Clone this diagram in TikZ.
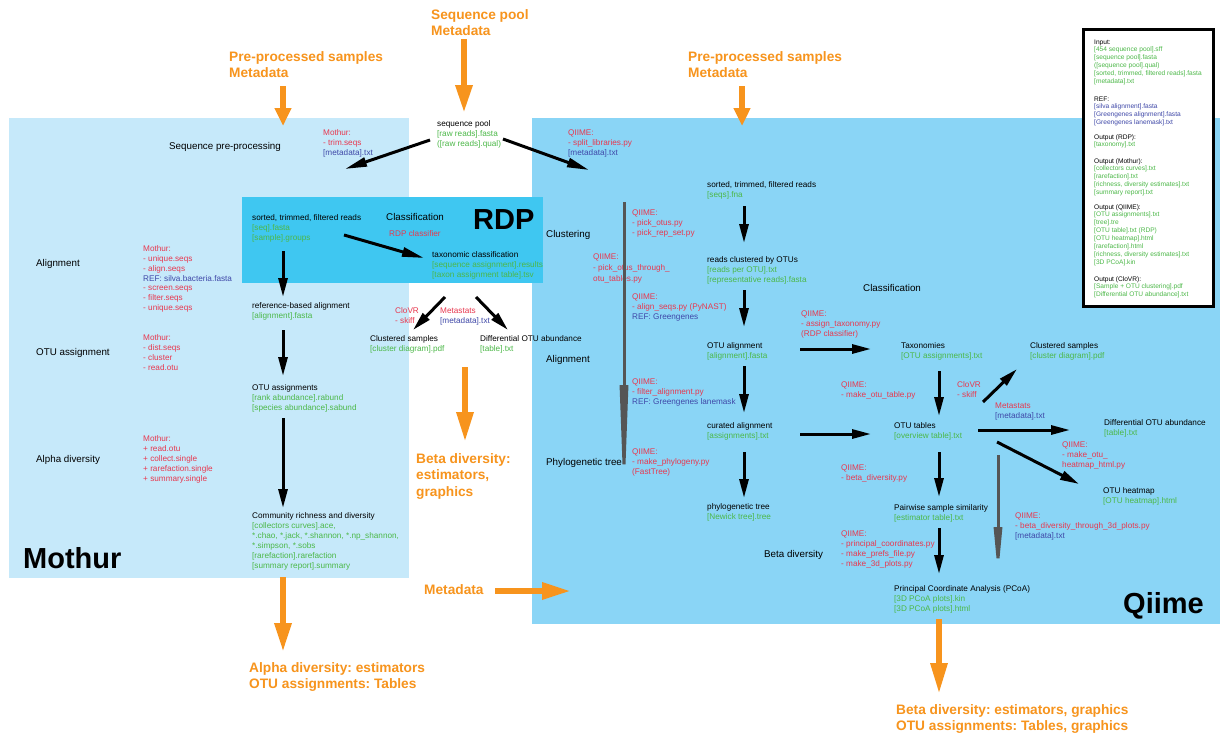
\documentclass[tikz,border=0pt]{standalone}
\usepackage{fontspec}
\setmainfont{Liberation Sans}
\usetikzlibrary{arrows.meta}
\frenchspacing
\definecolor{mothurbg}{HTML}{C6E9FA}
\definecolor{rdpbg}{HTML}{3FC7F1}
\definecolor{qiimebg}{HTML}{8AD5F6}
\definecolor{orng}{HTML}{F7941D}
\definecolor{grn}{HTML}{4CB848}
\definecolor{rd}{HTML}{E8384F}
\definecolor{bl}{HTML}{3F48A8}
\definecolor{gry}{HTML}{555555}
\newcommand{\gtxt}[1]{\textcolor{grn}{#1}}
\newcommand{\rtxt}[1]{\textcolor{rd}{#1}}
\newcommand{\btxt}[1]{\textcolor{bl}{#1}}
\tikzset{
  sm/.style={anchor=base west, inner sep=0, align=left, font=\fontsize{8.2}{10}\selectfont},
  lab/.style={anchor=base west, inner sep=0, font=\fontsize{9.8}{12}\selectfont},
  leg/.style={anchor=base west, inner sep=0, align=left, font=\fontsize{6.6}{7.95}\selectfont},
  otxt/.style={anchor=base west, inner sep=0, align=left, text=orng, font=\bfseries\fontsize{13.7}{16.5}\selectfont},
  bigt/.style={anchor=base west, inner sep=0, font=\bfseries\fontsize{29}{30}\selectfont},
  blk/.style={line width=3pt, -{Triangle[length=19pt,width=9pt]}},
  blkl/.style={line width=3pt, -{Triangle[length=22pt,width=9pt]}},
  oarr/.style={line width=6pt, draw=orng, -{Triangle[length=#1,width=16pt]}},
  garr/.style={line width=3pt, draw=gry, -{Triangle[length=#1,width=8pt]}}
}
\begin{document}
\begin{tikzpicture}[x=1pt,y=-1pt]
\useasboundingbox (0,0) rectangle (1220,736);
\fill[white] (0,0) rectangle (1220,736);
% regions
\fill[mothurbg] (9,118) rectangle (409,578);
\fill[qiimebg] (532,118) rectangle (1220,624);
\fill[rdpbg] (242,197) rectangle (543,283);
\draw[line width=3pt, fill=white] (1083,29) rectangle (1213,306);

% legend (positions are baselines of last lines)
\node[leg] (lin) at (1094,83.75) {Input:\\\gtxt{[454 sequence pool].sff}\\\gtxt{[sequence pool].fasta}\\\gtxt{([sequence pool].qual)}\\\gtxt{[sorted, trimmed, filtered reads].fasta}\\\gtxt{[metadata].txt}};
\node[leg] (lref) at (1094,124.85) {REF:\\\btxt{[silva alignment].fasta}\\\btxt{[Greengenes alignment].fasta}\\\btxt{[Greengenes lanemask].txt}};
\node[leg] (lrdp) at (1094,146.95) {Output (RDP):\\\gtxt{[taxonomy].txt}};
\node[leg] (lmot) at (1094,194.8) {Output (Mothur):\\\gtxt{[collectors curves].txt}\\\gtxt{[rarefaction].txt}\\\gtxt{[richness, diversity estimates].txt}\\\gtxt{[summary report].txt}};
\node[leg] (lqii) at (1094,264.65) {Output (QIIME):\\\gtxt{[OTU assignments].txt}\\\gtxt{[tree].tre}\\\gtxt{[OTU table].txt (RDP)}\\\gtxt{[OTU heatmap].html}\\\gtxt{[rarefaction].html}\\\gtxt{[richness, diversity estimates].txt}\\\gtxt{[3D PCoA].kin}};
\node[leg] (lclo) at (1094,296.9) {Output (CloVR):\\\gtxt{[Sample + OTU clustering].pdf}\\\gtxt{[Differential OTU abundance].txt}};

% orange inputs/outputs
\node[otxt] (pre1) at (229,77.5) {Pre-processed samples\\Metadata};
\node[otxt] (seqp) at (431,35.5) {Sequence pool\\Metadata};
\node[otxt] (pre2) at (688,77.5) {Pre-processed samples\\Metadata};
\node[otxt] (betaE) at (416,496) {Beta diversity:\\estimators,\\graphics};
\node[otxt] (alphaO) at (249,688.5) {Alpha diversity: estimators\\OTU assignments: Tables};
\node[otxt] (meta) at (424,594) {Metadata};
\node[otxt] (betaO) at (896,730.5) {Beta diversity: estimators, graphics\\OTU assignments: Tables, graphics};

% big titles
\node[bigt] (tmothur) at (23,568.4) {Mothur};
\node[bigt] (trdp) at (473,229.5) {RDP};
\node[bigt] (tqiime) at (1123,613.4) {Qiime};

% Mothur side
\node[lab] (seqpre) at (169,149) {Sequence pre-processing};
\node[lab] (lalign) at (36,266) {Alignment};
\node[lab] (lotu) at (36,355) {OTU assignment};
\node[lab] (lalpha) at (36,462) {Alpha diversity};
\node[sm] (m1) at (323,155.5) {\rtxt{Mothur:}\\\rtxt{- trim.seqs}\\\btxt{[metadata].txt}};
\node[sm, font=\fontsize{8.2}{9.85}\selectfont] (m2) at (143,310.6) {\rtxt{Mothur:}\\\rtxt{- unique.seqs}\\\rtxt{- align.seqs}\\\btxt{REF: silva.bacteria.fasta}\\\rtxt{- screen.seqs}\\\rtxt{- filter.seqs}\\\rtxt{- unique.seqs}};
\node[sm, font=\fontsize{8.2}{9.85}\selectfont] (m3) at (143,370) {\rtxt{Mothur:}\\\rtxt{- dist.seqs}\\\rtxt{- cluster}\\\rtxt{- read.otu}};
\node[sm, font=\fontsize{8.2}{9.85}\selectfont] (m4) at (143,481) {\rtxt{Mothur:}\\\rtxt{+ read.otu}\\\rtxt{+ collect.single}\\\rtxt{+ rarefaction.single}\\\rtxt{+ summary.single}};
\node[sm] (seqpool) at (437,146.5) {sequence pool\\\gtxt{[raw reads].fasta}\\\gtxt{([raw reads].qual)}};
\node[sm] (rdpin) at (252,240.5) {sorted, trimmed, filtered reads\\\gtxt{[seq].fasta}\\\gtxt{[sample].groups}};
\node[lab] (rdpclass) at (386,220) {Classification};
\node[sm] (rdpcl) at (389,236.5) {\rtxt{RDP classifier}};
\node[sm] (taxo) at (432,277.5) {taxonomic classification\\\gtxt{[sequence assignment].results}\\\gtxt{[taxon assignment table].tsv}};
\node[sm] (refal) at (252,318.5) {reference-based alignment\\\gtxt{[alignment].fasta}};
\node[sm] (clovr1) at (395,323.5) {\rtxt{CloVR}\\\rtxt{- skiff}};
\node[sm] (metast1) at (440,323.5) {\rtxt{Metastats}\\\btxt{[metadata].txt}};
\node[sm] (clus1) at (370,351.5) {Clustered samples\\\gtxt{[cluster diagram].pdf}};
\node[sm] (diff1) at (480,351.5) {Differential OTU abundance\\\gtxt{[table].txt}};
\node[sm] (otuas) at (252,410.5) {OTU assignments\\\gtxt{[rank abundance].rabund}\\\gtxt{[species abundance].sabund}};
\node[sm] (comm) at (252,568.5) {Community richness and diversity\\\gtxt{[collectors curves].ace,}\\\gtxt{*.chao, *.jack, *.shannon, *.np\_shannon,}\\\gtxt{*.simpson, *.sobs}\\\gtxt{[rarefaction].rarefaction}\\\gtxt{[summary report].summary}};

% Qiime side
\node[sm] (q1) at (568,155.5) {\rtxt{QIIME:}\\\rtxt{- split\_libraries.py}\\\btxt{[metadata].txt}};
\node[sm] (qsort) at (707,197.5) {sorted, trimmed, filtered reads\\\gtxt{[seqs].fna}};
\node[sm] (qclust) at (707,282.5) {reads clustered by OTUs\\\gtxt{[reads per OTU].txt}\\\gtxt{[representative reads].fasta}};
\node[sm] (qotual) at (707,358.5) {OTU alignment\\\gtxt{[alignment].fasta}};
\node[sm] (qcur) at (707,438.5) {curated alignment\\\gtxt{[assignments].txt}};
\node[sm] (qphy) at (707,519.5) {phylogenetic tree\\\gtxt{[Newick tree].tree}};
\node[lab] (lclus) at (546,237) {Clustering};
\node[lab] (lqal) at (546,362) {Alignment};
\node[lab] (lphy) at (546,465) {Phylogenetic tree};
\node[lab] (lbeta) at (764,557) {Beta diversity};
\node[lab] (lclass) at (863,291) {Classification};
\node[sm] (qpo) at (632,235.5) {\rtxt{QIIME:}\\\rtxt{- pick\_otus.py}\\\rtxt{- pick\_rep\_set.py}};
\node[sm, font=\fontsize{8.2}{11}\selectfont] (qpot) at (593,281.5) {\rtxt{QIIME:}\\\rtxt{- pick\_otus\_through\_}\\\rtxt{otu\_tables.py}};
\node[sm] (qal) at (632,319.5) {\rtxt{QIIME:}\\\rtxt{- align\_seqs.py (PyNAST)}\\\btxt{REF: Greengenes}};
\node[sm] (qfil) at (632,404.5) {\rtxt{QIIME:}\\\rtxt{- filter\_alignment.py}\\\btxt{REF: Greengenes lanemask}};
\node[sm] (qmph) at (632,474.5) {\rtxt{QIIME:}\\\rtxt{- make\_phylogeny.py}\\\rtxt{(FastTree)}};
\node[sm] (qtax) at (801,336.5) {\rtxt{QIIME:}\\\rtxt{- assign\_taxonomy.py}\\\rtxt{(RDP classifier)}};
\node[sm] (taxon) at (901,358.5) {Taxonomies\\\gtxt{[OTU assignments].txt}};
\node[sm] (clus2) at (1030,358.5) {Clustered samples\\\gtxt{[cluster diagram].pdf}};
\node[sm] (clovr2) at (957,397.5) {\rtxt{CloVR}\\\rtxt{- skiff}};
\node[sm] (qmot) at (841,397.5) {\rtxt{QIIME:}\\\rtxt{- make\_otu\_table.py}};
\node[sm] (otutab) at (894,438.5) {OTU tables\\\gtxt{[overview table].txt}};
\node[sm] (metast2) at (995,418.5) {\rtxt{Metastats}\\\btxt{[metadata].txt}};
\node[sm] (diff2) at (1104,435.5) {Differential OTU abundance\\\gtxt{[table].txt}};
\node[sm] (qheat) at (1062,467.5) {\rtxt{QIIME:}\\\rtxt{- make\_otu\_}\\\rtxt{heatmap\_html.py}};
\node[sm] (heat) at (1103,503.5) {OTU heatmap\\\gtxt{[OTU heatmap].html}};
\node[sm] (qbeta) at (841,480.5) {\rtxt{QIIME:}\\\rtxt{- beta\_diversity.py}};
\node[sm] (pair) at (894,520) {Pairwise sample similarity\\\gtxt{[estimator table].txt}};
\node[sm] (qpc) at (841,566.5) {\rtxt{QIIME:}\\\rtxt{- principal\_coordinates.py}\\\rtxt{- make\_prefs\_file.py}\\\rtxt{- make\_3d\_plots.py}};
\node[sm] (qb3d) at (1015,538.5) {\rtxt{QIIME:}\\\rtxt{- beta\_diversity\_through\_3d\_plots.py}\\\btxt{[metadata].txt}};
\node[sm] (pcoa) at (894,611.5) {Principal Coordinate Analysis (PCoA)\\\gtxt{[3D PCoA plots].kin}\\\gtxt{[3D PCoA plots].html}};

% connector end points
\coordinate (c1a) at (430,140); \coordinate (c1b) at (345,169);
\coordinate (c2a) at (503,139); \coordinate (c2b) at (589,170);
\coordinate (c3a) at (344,235); \coordinate (c3b) at (424,258);
\coordinate (c4a) at (283,251); \coordinate (c4b) at (283,297);
\coordinate (c5a) at (445,297); \coordinate (c5b) at (413,330);
\coordinate (c6a) at (476,297); \coordinate (c6b) at (508,330);
\coordinate (c7a) at (283,330); \coordinate (c7b) at (283,376);
\coordinate (c8a) at (283,418); \coordinate (c8b) at (283,508);
\coordinate (c9a) at (744,206); \coordinate (c9b) at (744,243);
\coordinate (c10a) at (744,290); \coordinate (c10b) at (744,327);
\coordinate (c11a) at (744,366); \coordinate (c11b) at (744,413);
\coordinate (c12a) at (744,452); \coordinate (c12b) at (744,498);
\coordinate (c13a) at (800,349); \coordinate (c13b) at (871,349);
\coordinate (c14a) at (800,434); \coordinate (c14b) at (871,434);
\coordinate (c15a) at (939,371); \coordinate (c15b) at (939,416);
\coordinate (c16a) at (983,402); \coordinate (c16b) at (1017,369);
\coordinate (c17a) at (978,430); \coordinate (c17b) at (1070,430);
\coordinate (c18a) at (997,442); \coordinate (c18b) at (1079,484);
\coordinate (c19a) at (939,452); \coordinate (c19b) at (939,497);
\coordinate (c20a) at (939,528); \coordinate (c20b) at (939,574);
\coordinate (g1a) at (624,202); \coordinate (g1b) at (624,512);
\coordinate (g2a) at (998,455); \coordinate (g2b) at (998,577);
\coordinate (o1a) at (283,86); \coordinate (o1b) at (283,126);
\coordinate (o2a) at (464,39); \coordinate (o2b) at (464,113);
\coordinate (o3a) at (742,86); \coordinate (o3b) at (742,126);
\coordinate (o4a) at (465,367); \coordinate (o4b) at (465,442);
\coordinate (o5a) at (283,577); \coordinate (o5b) at (283,652);
\coordinate (o6a) at (495,591); \coordinate (o6b) at (571,591);
\coordinate (o7a) at (939,619); \coordinate (o7b) at (939,694);

% grey process arrows
\draw[garr=127pt] (g1a) -- (g1b);
\draw[garr=50pt] (g2a) -- (g2b);

% black arrows
\draw[blkl] (c1a) -- (c1b);
\draw[blkl] (c2a) -- (c2b);
\draw[blkl] (c3a) -- (c3b);
\foreach \i in {4,...,20} {\draw[blk] (c\i a) -- (c\i b);}

% orange arrows
\draw[oarr=18pt] (o1a) -- (o1b);
\draw[oarr=28pt] (o2a) -- (o2b);
\draw[oarr=18pt] (o3a) -- (o3b);
\draw[oarr=30pt] (o4a) -- (o4b);
\draw[oarr=29pt] (o5a) -- (o5b);
\draw[oarr=29pt] (o6a) -- (o6b);
\draw[oarr=31pt] (o7a) -- (o7b);
\end{tikzpicture}
\end{document}
